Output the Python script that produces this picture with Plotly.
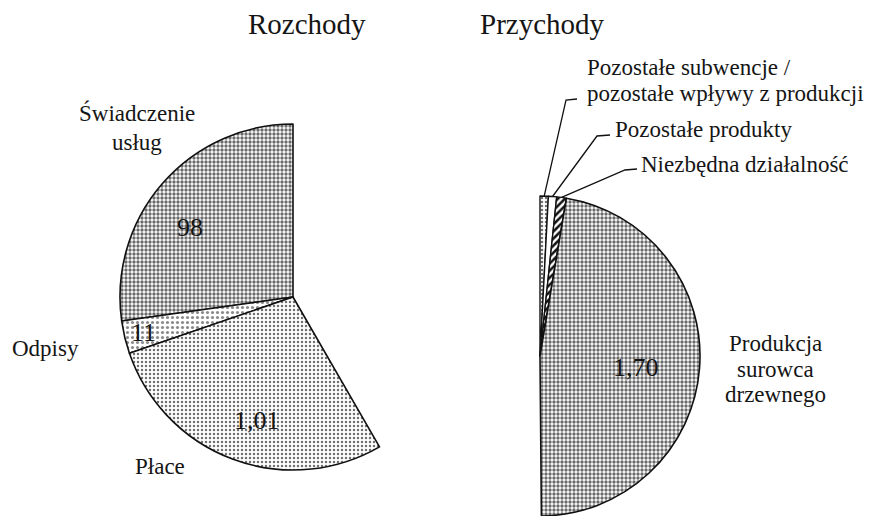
import math
import plotly.graph_objects as go

# ---------------- data ----------------
rozchody_labels = ["Świadczenie usług", "Odpisy", "Płace"]
rozchody_values = [0.98, 0.11, 1.01]
rozchody_text = ["98", "11", "1,01"]

przychody_labels = ["Pozostałe subwencje / pozostałe wpływy z produkcji",
                    "Pozostałe produkty", "Niezbędna działalność",
                    "Produkcja surowca drzewnego"]
przychody_values = [0.03, 0.03, 0.035, 1.70]
przychody_text = ["", "", "", "1,70"]

FULL_TURN = 3.60   # value units per full 360° (1 unit = 100°)

# ---------------- layout helpers ----------------
W, H = 869, 516
FONT = "Liberation Serif"
INK = "#151515"


def px(x):
    return x / W


def py(y):
    return 1 - y / H


# pie geometry (pixels)
L_CX, L_CY, L_R = 293, 297, 173
R_CX, R_CY, R_R = 540, 356, 160

fig = go.Figure()

# Left half pie (Rozchody): first slice ends at 12 o'clock, rest go counterclockwise
l_vals = rozchody_values + [FULL_TURN - sum(rozchody_values)]
fig.add_trace(go.Pie(
    labels=rozchody_labels + ["_"],
    values=l_vals,
    sort=False,
    direction="counterclockwise",
    rotation=-rozchody_values[0] * 360 / FULL_TURN,
    textinfo="none",
    hoverinfo="label+value",
    showlegend=False,
    domain=dict(x=[px(L_CX - L_R), px(L_CX + L_R)],
                y=[py(L_CY + L_R), py(L_CY - L_R)]),
    marker=dict(
        colors=["white", "white", "white", "rgba(0,0,0,0)"],
        line=dict(color="#111111", width=[1.6, 1.6, 1.6, 0]),
        pattern=dict(
            shape=[".", ".", ".", ""],
            fgcolor=["#6a6a6a", "#8a8a8a", "#707070", "#ffffff"],
            bgcolor=["white", "white", "white", "white"],
            size=[4, 5, 4, 4],
            solidity=[0.55, 0.3, 0.3, 0.3],
        ),
    ),
))

# Right half pie (Przychody), clockwise from 12 o'clock
r_vals = przychody_values + [FULL_TURN - sum(przychody_values)]
fig.add_trace(go.Pie(
    labels=przychody_labels + ["_"],
    values=r_vals,
    sort=False,
    direction="clockwise",
    rotation=0,
    textinfo="none",
    hoverinfo="label+value",
    showlegend=False,
    domain=dict(x=[px(R_CX - R_R), px(R_CX + R_R)],
                y=[max(0, py(R_CY + R_R)), py(R_CY - R_R)]),
    marker=dict(
        colors=["white", "white", "white", "white", "rgba(0,0,0,0)"],
        line=dict(color="#111111", width=[1.4, 1.4, 1.4, 1.6, 0]),
        pattern=dict(
            shape=[".", "", "/", ".", ""],
            fgcolor=["#707070", "#ffffff", "#111111", "#6a6a6a", "#ffffff"],
            bgcolor=["white", "white", "white", "white", "white"],
            size=[4, 4, 5, 4, 4],
            solidity=[0.3, 0.3, 0.5, 0.55, 0.3],
        ),
    ),
))

annotations = []


def add_text(text, x, y, size=23, xanchor="center"):
    annotations.append(dict(
        text=text, x=px(x), y=py(y), xref="paper", yref="paper",
        xanchor=xanchor, yanchor="middle", showarrow=False,
        font=dict(family=FONT, size=size, color=INK)))


# titles
add_text("Rozchody", 307, 24, size=29)
add_text("Przychody", 542, 24, size=29)

# category labels
add_text("Świadczenie", 137, 113)
add_text("usług", 137, 142)
add_text(rozchody_labels[1], 10, 348, xanchor="left")
add_text(rozchody_labels[2], 133, 466, xanchor="left")
add_text("Produkcja", 775, 343)
add_text("surowca", 775, 369)
add_text("drzewnego", 775, 394)
add_text("Pozostałe subwencje /", 585, 67, xanchor="left")
add_text("pozostałe wpływy z produkcji", 585, 93, xanchor="left")
add_text(przychody_labels[1], 613, 129, xanchor="left")
add_text(przychody_labels[2], 639, 164, xanchor="left")

# value labels
add_text(rozchody_text[0], 190, 227, size=26)
add_text(rozchody_text[1], 143, 332, size=26)
add_text(rozchody_text[2], 257, 420, size=26)
add_text(przychody_text[3], 636, 367, size=26)

# leader lines for the thin revenue slices
elbows = [((566, 100), (577, 99)), ((597, 136), (610, 135)), ((625, 170), (637, 169))]
shapes = []
cum = 0.0
for i, (elb, end) in enumerate(elbows):
    v = przychody_values[i]
    ang = math.radians((cum + v / 2) * 360 / FULL_TURN)
    cum += v
    sx = R_CX + R_R * math.sin(ang)
    sy = R_CY - R_R * math.cos(ang)
    path = (f"M {px(sx)} {py(sy)} L {px(elb[0])} {py(elb[1])} "
            f"L {px(end[0])} {py(end[1])}")
    shapes.append(dict(type="path", path=path, xref="paper", yref="paper",
                       line=dict(color="#111111", width=1.3)))

fig.update_layout(
    width=W, height=H,
    margin=dict(l=0, r=0, t=0, b=0),
    paper_bgcolor="white",
    plot_bgcolor="white",
    annotations=annotations,
    shapes=shapes,
)

fig.write_html(
    "out.html",
    config={"displayModeBar": False},
    post_script="document.body.style.margin='0';document.body.style.overflow='hidden';",
)
